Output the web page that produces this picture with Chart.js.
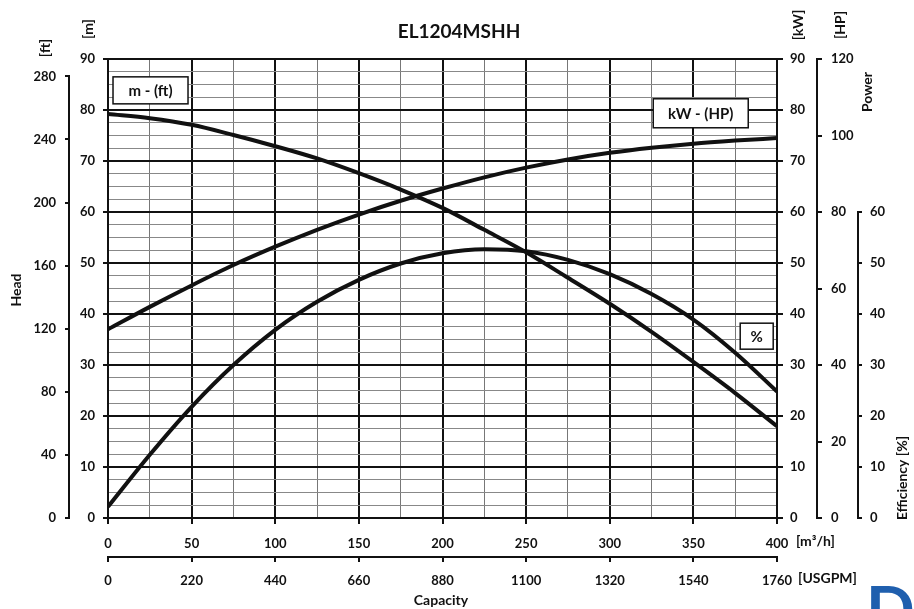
<!DOCTYPE html>
<html>
<head>
<meta charset="utf-8">
<script src="https://cdn.jsdelivr.net/npm/chart.js@4.4.1/dist/chart.umd.min.js"></script>
<style>
  html, body { margin:0; padding:0; background:#fff; }
  #wrap { position:relative; width:914px; height:609px; }
</style>
</head>
<body>
<div id="wrap"><canvas id="pumpChart"></canvas></div>
<script>
// --- DATA ---
const FLOW_M3H = [0, 25, 50, 75, 100, 125, 150, 175, 200, 225, 250, 275, 300, 325, 350, 375, 400];
const HEAD_M   = [79.2, 78.4, 77.1, 75.1, 72.9, 70.5, 67.6, 64.4, 60.8, 56.5, 52.1, 47.1, 42.0, 36.5, 30.6, 24.5, 18.0];
const POWER_KW = [37.0, 41.4, 45.6, 49.6, 53.2, 56.5, 59.5, 62.2, 64.6, 66.8, 68.7, 70.3, 71.6, 72.6, 73.4, 74.0, 74.5];
const EFF_PCT  = [2.2, 12.4, 21.8, 30.0, 36.9, 42.4, 46.7, 49.9, 51.9, 52.7, 52.3, 50.6, 47.8, 43.9, 38.9, 32.4, 24.8];

// tick labels
const HEAD_FT_TICKS = [0, 40, 80, 120, 160, 200, 240, 280];
const EFF_TICKS = [0, 10, 20, 30, 40, 50, 60];
const USGPM_TICKS = [0, 220, 440, 660, 880, 1100, 1320, 1540, 1760];

const TITLE = 'EL1204MSHH';
const CURVE_LABELS = [
    { text: 'm - (ft)',  q: 3,   m: 86.5, w: 75, h: 27 },
    { text: 'kW - (HP)', q: 326, m: 82.2, w: 95, h: 29 },
    { text: '%',         q: 378, m: 38.2, w: 33, h: 26 }
];

// --- STYLE ---
const INK = '#111';
const FONT = 'Lato, "Open Sans", sans-serif';
const tickFont = { family: FONT, size: 13, weight: 'bold' };

function pts(ys){ return FLOW_M3H.map((q,i)=>({ x:q, y:ys[i] })); }
function fixW(w){ return s => { s.width = w; }; }
function fixH(h){ return s => { s.height = h; }; }
function useTicks(arr){ return s => { s.ticks = arr.map(v => ({ value:v })); }; }

const curve = (data, axis) => ({
    data, yAxisID: axis, borderColor: INK, borderWidth: 4,
    pointRadius: 0, fill: false, cubicInterpolationMode: 'monotone'
});

// text and partial axis lines drawn around the chart
const decor = {
    id: 'decor',
    afterDraw(chart){
        const c = chart.ctx, s = chart.scales;
        c.save();
        c.strokeStyle = INK; c.lineWidth = 2;
        // ft axis only runs 0..280, efficiency axis only 0..60
        c.beginPath();
        c.moveTo(s.ft.right - 1, s.ft.getPixelForValue(0));
        c.lineTo(s.ft.right - 1, s.ft.getPixelForValue(280));
        c.moveTo(s.eff.left + 1, s.eff.getPixelForValue(0));
        c.lineTo(s.eff.left + 1, s.eff.getPixelForValue(60));
        c.stroke();

        c.fillStyle = INK;
        c.textAlign = 'center'; c.textBaseline = 'middle';
        c.font = 'bold 19px ' + FONT;
        c.fillText(TITLE, 459, 32);
        c.font = 'bold 14px ' + FONT;
        c.fillText('Capacity', 441, 600);
        c.textAlign = 'left';
        c.fillText('[m³/h]', 796, 541);
        c.fillText('[USGPM]', 798, 578);

        const vtext = (t, x, y) => {
            c.save(); c.translate(x, y); c.rotate(-Math.PI/2);
            c.textAlign = 'center'; c.fillText(t, 0, 0); c.restore();
        };
        vtext('[ft]', 45, 48);
        vtext('[m]', 88, 29);
        vtext('[kW]', 798, 25);
        vtext('[HP]', 840, 25);
        vtext('Power', 867, 92);
        vtext('Head', 16, 290);
        vtext('Efficiency [%]', 902, 478);

        // logo fragment in the corner
        c.fillStyle = '#1f5fae';
        c.font = 'bold 64px ' + FONT;
        c.textAlign = 'left'; c.textBaseline = 'alphabetic';
        c.fillText('D', 866, 632);
        c.restore();
    },
    afterDatasetsDraw(chart){
        const c = chart.ctx, x = chart.scales.x, m = chart.scales.m;
        c.save();
        CURVE_LABELS.forEach(b => {
            const px = x.getPixelForValue(b.q), py = m.getPixelForValue(b.m);
            c.fillStyle = '#fff';
            c.fillRect(px, py, b.w, b.h);
            c.strokeStyle = INK; c.lineWidth = 1.5;
            c.strokeRect(px, py, b.w, b.h);
            c.fillStyle = INK;
            c.font = 'bold 15px ' + FONT;
            c.textAlign = 'center'; c.textBaseline = 'middle';
            c.fillText(b.text, px + b.w/2, py + b.h/2 + 1);
        });
        c.restore();
    }
};

const major = (v, step) => Math.abs(v / step - Math.round(v / step)) < 1e-6;

new Chart(document.getElementById('pumpChart'), {
    type: 'line',
    data: {
        datasets: [
            curve(pts(HEAD_M), 'm'),
            curve(pts(POWER_KW), 'kw'),
            curve(pts(EFF_PCT), 'eff')
        ]
    },
    options: {
        responsive: true,
        maintainAspectRatio: false,
        animation: false,
        layout: { padding: { top: 59, left: 0, right: 0, bottom: 0 } },
        plugins: { legend: { display: false }, tooltip: { enabled: false } },
        scales: {
            x: {
                type: 'linear', position: 'bottom', weight: 0, min: 0, max: 400,
                afterFit: fixH(39),
                ticks: { stepSize: 25, autoSkip: false, maxRotation: 0, padding: 12, color: INK, font: tickFont,
                         callback: v => major(v, 50) ? String(v) : '' },
                grid: {
                    color: ctx => major(ctx.tick.value, 50) ? INK : '#777',
                    lineWidth: ctx => major(ctx.tick.value, 50) ? 2 : 1,
                    tickColor: ctx => major(ctx.tick.value, 50) ? INK : 'rgba(0,0,0,0)',
                    tickLength: 6
                },
                border: { display: true, color: INK, width: 2 }
            },
            usgpm: {
                type: 'linear', position: 'bottom', weight: 1, min: 0, max: 1760,
                afterFit: fixH(52), afterBuildTicks: useTicks(USGPM_TICKS),
                ticks: { autoSkip: false, maxRotation: 0, padding: 11, color: INK, font: tickFont,
                         callback: v => String(v) },
                grid: { drawOnChartArea: false, color: INK, tickLength: 5, lineWidth: 2 },
                border: { display: true, color: INK, width: 2 }
            },
            m: {
                type: 'linear', position: 'left', weight: 0, min: 0, max: 90,
                afterFit: fixW(38),
                ticks: { stepSize: 2.5, autoSkip: false, padding: 8, color: INK, font: tickFont,
                         callback: v => major(v, 10) ? String(v) : '' },
                grid: {
                    color: ctx => major(ctx.tick.value, 10) ? INK : '#888',
                    lineWidth: ctx => major(ctx.tick.value, 10) ? 2 : 1,
                    tickColor: ctx => major(ctx.tick.value, 10) ? INK : 'rgba(0,0,0,0)',
                    tickLength: 5
                },
                border: { display: true, color: INK, width: 2 }
            },
            ft: {
                type: 'linear', position: 'left', weight: 1, min: 0, max: 291,
                afterFit: fixW(70), afterBuildTicks: useTicks(HEAD_FT_TICKS),
                ticks: { autoSkip: false, padding: 9, color: INK, font: tickFont },
                grid: { drawOnChartArea: false, color: INK, tickLength: 5, lineWidth: 2 },
                border: { display: false }
            },
            kw: {
                type: 'linear', position: 'right', weight: 0, min: 0, max: 90,
                afterFit: fixW(40),
                ticks: { stepSize: 10, autoSkip: false, padding: 7, color: INK, font: tickFont },
                grid: { drawOnChartArea: false, color: INK, tickLength: 6, lineWidth: 2 },
                border: { display: true, color: INK, width: 2 }
            },
            hp: {
                type: 'linear', position: 'right', weight: 1, min: 0, max: 120,
                afterFit: fixW(40),
                ticks: { stepSize: 20, autoSkip: false, padding: 9, color: INK, font: tickFont },
                grid: { drawOnChartArea: false, color: INK, tickLength: 5, lineWidth: 2 },
                border: { display: true, color: INK, width: 2 }
            },
            eff: {
                type: 'linear', position: 'right', weight: 2, min: 0, max: 90,
                afterFit: fixW(57), afterBuildTicks: useTicks(EFF_TICKS),
                ticks: { autoSkip: false, padding: 8, color: INK, font: tickFont },
                grid: { drawOnChartArea: false, color: INK, tickLength: 5, lineWidth: 2 },
                border: { display: false }
            }
        }
    },
    plugins: [decor]
});
</script>
</body>
</html>
